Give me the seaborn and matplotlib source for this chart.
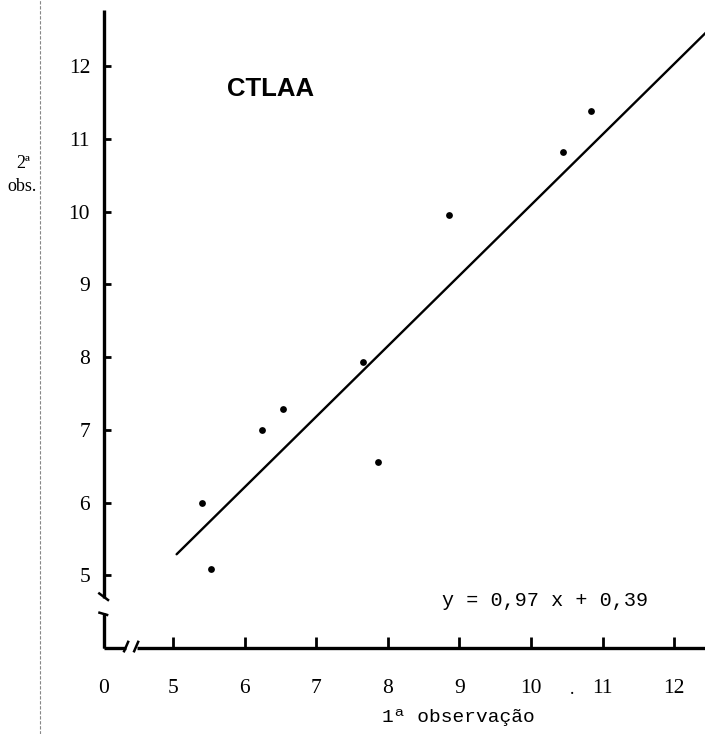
import numpy as np
import pandas as pd
import matplotlib
matplotlib.use("Agg")
import matplotlib.pyplot as plt
from matplotlib.lines import Line2D
import seaborn as sns

# ---- data ----
obs1 = [5.41, 5.53, 6.24, 6.53, 7.65, 7.86, 8.86, 10.45, 10.84]
obs2 = [5.99, 5.09, 6.99, 7.29, 7.93, 6.55, 9.95, 10.82, 11.38]
slope = 0.97
intercept = 0.39
line_x = [5.05, 12.45]
x_ticks = [5, 6, 7, 8, 9, 10, 11, 12]
y_ticks = [5, 6, 7, 8, 9, 10, 11, 12]
title = "CTLAA"
equation = "y = 0,97 x + 0,39"
xlabel = "1ª observação"

sns.set_theme(style="white")
plt.rcParams['font.family'] = ['Liberation Serif', 'DejaVu Serif']
plt.rcParams['text.color'] = 'black'

fig = plt.figure(figsize=(7.05, 7.34), dpi=100)
ax = fig.add_axes([104/705, (734-648)/734, 1-104/705, (648-10)/734])

df = pd.DataFrame({"x": obs1, "y": obs2})
sns.scatterplot(data=df, x="x", y="y", ax=ax, color="black", s=24,
                edgecolor="black", linewidth=0, zorder=3)
ldf = pd.DataFrame({"x": line_x, "y": [slope*v + intercept for v in line_x]})
sns.lineplot(data=ldf, x="x", y="y", ax=ax, color="black", lw=1.7)

x0 = 5 - (173-104)/71.57
y0 = 4.0
ax.set_xlim(x0, 12.43)
ax.set_ylim(y0, 12.77)

for s in ax.spines.values():
    s.set_visible(False)

# broken axes drawn manually
kw = dict(color="black", clip_on=False, solid_capstyle="butt")
ax.plot([x0, x0], [4.69, 12.77], lw=2.4, **kw)
ax.plot([x0, x0], [y0, 4.48], lw=2.4, **kw)
ax.plot([x0, 4.35], [y0, y0], lw=2.4, **kw)
ax.plot([4.50, 12.43], [y0, y0], lw=2.4, **kw)
# break marks
ax.plot([x0-0.08, x0+0.07], [4.76, 4.65], lw=1.8, **kw)
ax.plot([x0-0.08, x0+0.06], [4.49, 4.45], lw=1.8, **kw)
ax.plot([4.31, 4.38], [y0-0.06, y0+0.10], lw=1.8, **kw)
ax.plot([4.45, 4.52], [y0-0.06, y0+0.10], lw=1.8, **kw)

ax.set_xticks([x0] + x_ticks)
ax.set_xticklabels(["0"] + [str(t) for t in x_ticks])
ax.set_yticks(y_ticks)
ax.set_yticklabels([str(t) for t in y_ticks])
ax.tick_params(axis="x", direction="in", length=8, width=2, pad=22,
               labelsize=15.5, bottom=True, colors="black")
ax.tick_params(axis="y", direction="in", length=5, width=2, pad=10,
               labelsize=15.5, left=True, colors="black")
ax.set_xlabel("")
ax.set_ylabel("")

fig.text(227/705, 1-89/734, title, ha="left", va="center", fontsize=18.5,
         fontweight="bold", color="black",
         family=["Liberation Sans", "DejaVu Sans"])
fig.text(545/705, 1-600/734, equation, ha="center", va="center",
         fontsize=14.5, color="black",
         family=["Liberation Mono", "DejaVu Sans Mono"])
fig.text(458/705, 1-718/734, xlabel, ha="center", va="center",
         fontsize=14, color="black",
         family=["Liberation Mono", "DejaVu Sans Mono"])
fig.text(23/705, 1-163/734, "2ª", ha="center", va="center", fontsize=13,
         color="black")
fig.text(22/705, 1-186/734, "obs.", ha="center", va="center", fontsize=13,
         color="black")
fig.text(572/705, 1-690/734, ".", ha="center", va="center", fontsize=13,
         color="black")

# scan fold line on the left
fig.add_artist(Line2D([40/705, 40/705], [0, 1], transform=fig.transFigure,
                      color="#888888", lw=0.8, ls=(0, (3, 1.5))))

fig.savefig("out.png", dpi=100)
